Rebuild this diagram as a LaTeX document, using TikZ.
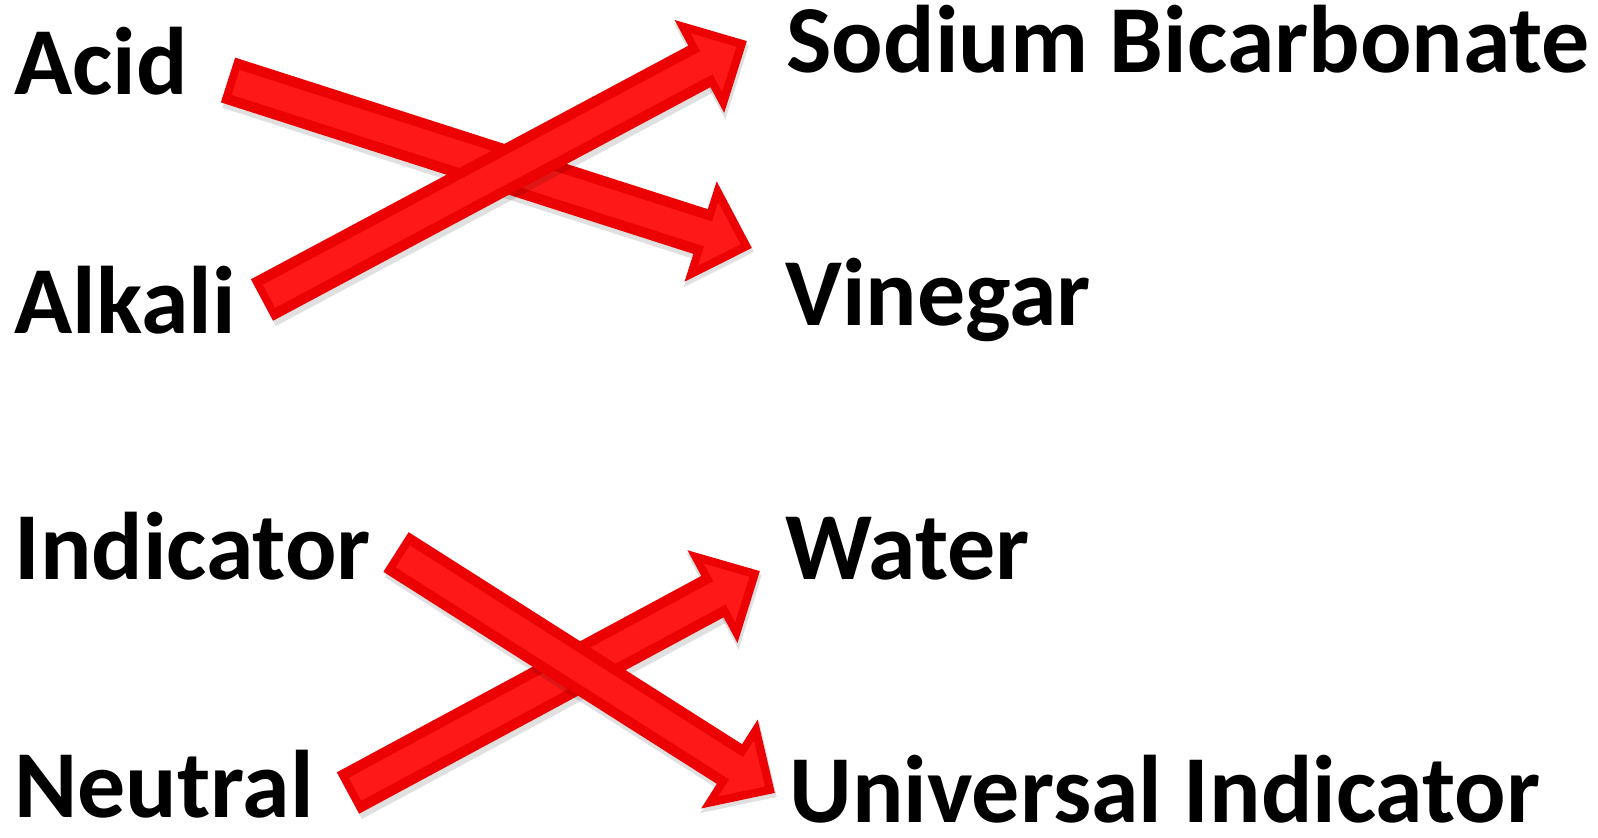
\documentclass[tikz,border=0pt]{standalone}
\usepackage{fontspec}
\setmainfont{Carlito}
\usetikzlibrary{arrows.meta,positioning}
\definecolor{arrowred}{RGB}{255,24,24}
\definecolor{arrowdark}{RGB}{236,2,2}

\begin{document}
\begin{tikzpicture}[x=0.5pt,y=-0.5pt,
        word/.style={anchor=base west, inner sep=0pt, text=black,
            font=\fontsize{48}{50}\selectfont\bfseries},
        bigarrow/.style={draw=arrowdark, line width=23.5pt,
            -{Triangle[width=51pt,length=27pt]}},
        bigarrowtop/.style={draw=arrowred, line width=13pt,
            -{Triangle[width=32pt,length=17pt]}, shorten >=6pt, shorten <=4pt},
        arrowshadow/.style={draw=black, opacity=0.12, line width=25pt,
            -{Triangle[width=53pt,length=28pt]}}
    ]
        \useasboundingbox (0,0) rectangle (1598,838);

        % left and right words
        \node[word] (acid) at (14,95) {Acid};
        \node[word] (alkali) at (14,334) {Alkali};
        \node[word] (indicator) at (14,579) {Indicator};
        \node[word] (neutral) at (14,817) {Neutral};
        \node[word] (sodium) at (786,73) {Sodium Bicarbonate};
        \node[word] (vinegar) at (785,326) {Vinegar};
        \node[word] (water) at (785,579) {Water};
        \node[word] (universal) at (789,822) {Universal Indicator};

        % ends of the arrows
        \coordinate (acid-out) at (228,80);
        \coordinate (vinegar-in) at (752,248);
        \coordinate (alkali-out) at (262,300);
        \coordinate (sodium-in) at (747,41);
        \coordinate (indicator-out) at (396,552);
        \coordinate (universal-in) at (775,793);
        \coordinate (neutral-out) at (348,793);
        \coordinate (water-in) at (760,571);

        % top pair
        \draw[arrowshadow, transform canvas={shift={(1pt,-2pt)}}] (acid-out) -- (vinegar-in);
        \draw[bigarrow] (acid-out) -- (vinegar-in);
        \draw[bigarrowtop] (acid-out) -- (vinegar-in);
        \draw[arrowshadow, transform canvas={shift={(1pt,-2pt)}}] (alkali-out) -- (sodium-in);
        \draw[bigarrow] (alkali-out) -- (sodium-in);
        \draw[bigarrowtop] (alkali-out) -- (sodium-in);

        % bottom pair
        \draw[arrowshadow, transform canvas={shift={(1pt,-2pt)}}] (neutral-out) -- (water-in);
        \draw[bigarrow] (neutral-out) -- (water-in);
        \draw[bigarrowtop] (neutral-out) -- (water-in);
        \draw[arrowshadow, transform canvas={shift={(1pt,-2pt)}}] (indicator-out) -- (universal-in);
        \draw[bigarrow] (indicator-out) -- (universal-in);
        \draw[bigarrowtop] (indicator-out) -- (universal-in);
    \end{tikzpicture}
\end{document}
